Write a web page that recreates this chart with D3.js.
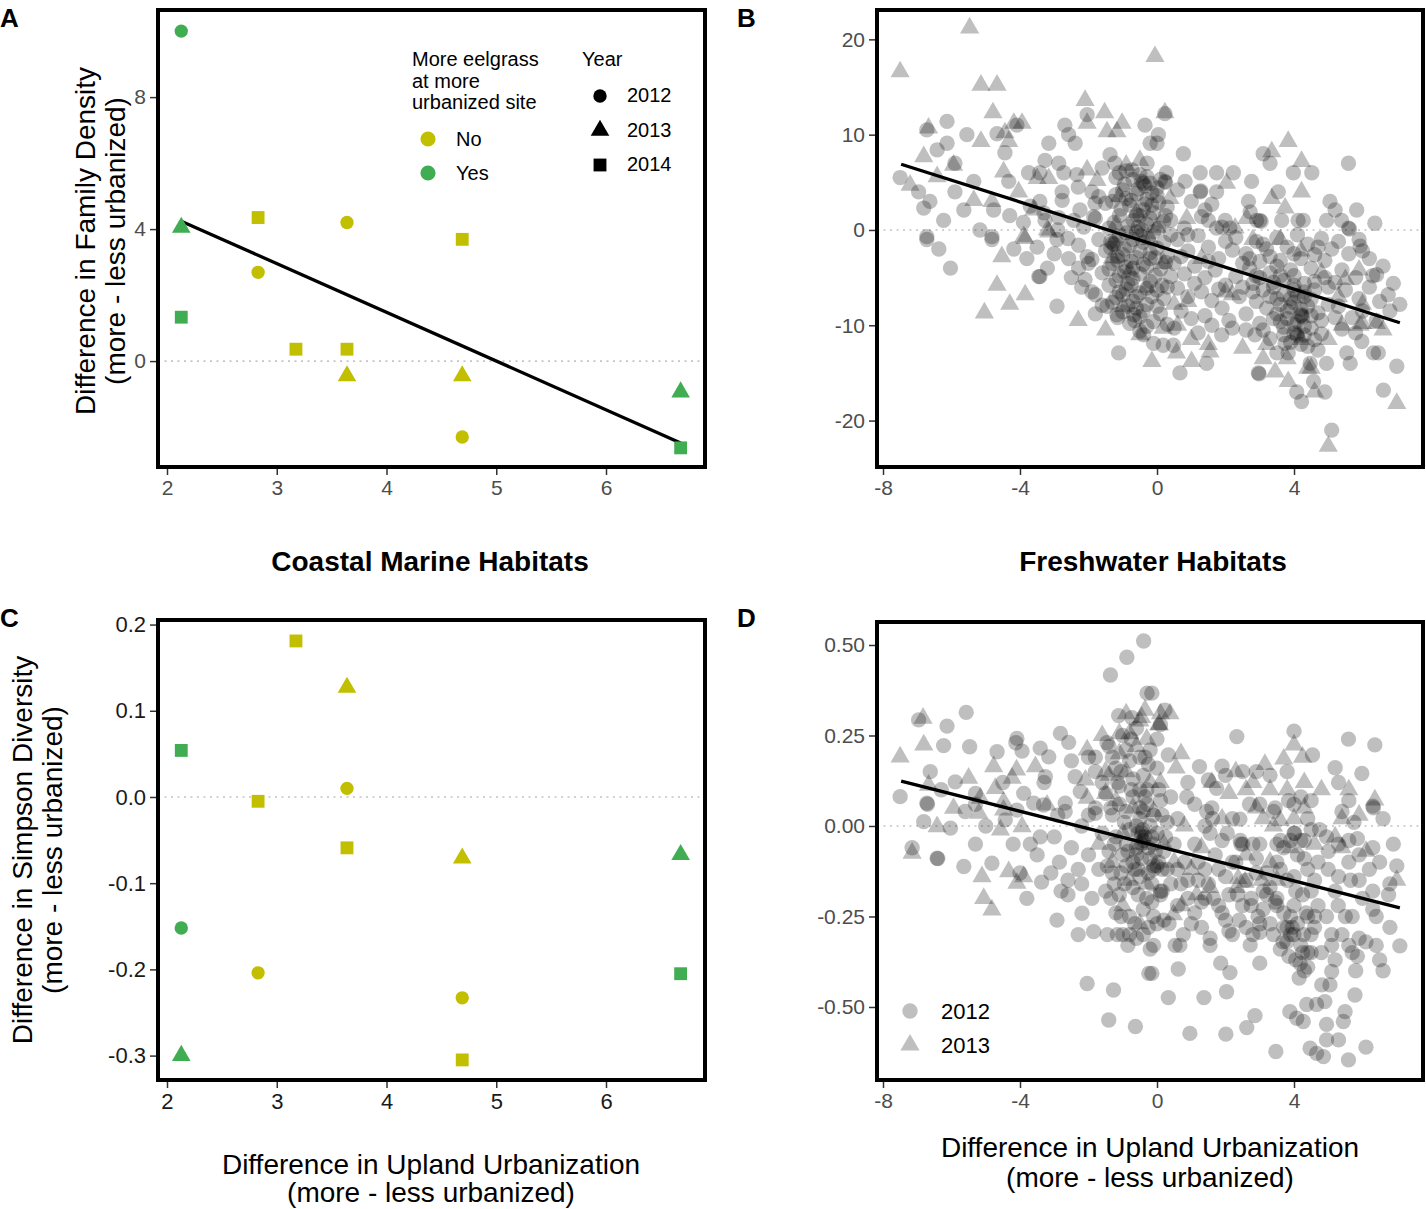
<!DOCTYPE html>
<html><head><meta charset="utf-8">
<script src="https://cdn.jsdelivr.net/npm/d3@7"></script>
<style>body{margin:0;background:#fff} text{font-family:"Liberation Sans",Arial,Helvetica,sans-serif}</style>
</head><body><svg id="c" width="1426" height="1209"></svg>
<script>
// ---------- Coastal marine (panels A, C) ----------
const coastalUrban    = [2.13, 2.13, 2.13, 2.83, 2.83, 3.175, 3.64, 3.64, 3.64, 4.69, 4.69, 4.69, 6.68, 6.68];
const coastalYear     = [2012, 2013, 2014, 2012, 2014, 2014, 2012, 2013, 2014, 2012, 2013, 2014, 2013, 2014];
const coastalEelgrass = ["Yes","Yes","Yes","No","No","No","No","No","No","No","No","No","Yes","Yes"];
const coastalDensity  = [10.0, 4.05, 1.33, 2.69, 4.35, 0.36, 4.2, -0.45, 0.36, -2.3, -0.45, 3.69, -0.94, -2.63];
const coastalSimpson  = [-0.152, -0.30, 0.054, -0.204, -0.005, 0.181, 0.010, 0.127, -0.059, -0.233, -0.071, -0.305, -0.067, -0.205];
const coastalDensityFit = [[2.13, 4.24], [6.68, -2.48]];
const coastalXTicks = [2, 3, 4, 5, 6];
const densityYTicks = [0, 4, 8];
const simpsonYTicks = [0.2, 0.1, 0.0, -0.1, -0.2, -0.3];

// ---------- Freshwater (panels B, D): [urbanization diff, response diff] ----------
const freshDensity2012 = [
[-6.13,11.4],[-6.72,10.5],[-5.55,10.0],[-4.67,10.1],[-4.09,11.0],[-6.13,9.1],[-6.42,8.4],[-4.44,8.1],[-5.9,7.0],[-7.5,5.5],[-6.96,4.0],[-6.63,3.0],[-6.81,2.3],[-5.9,4.0],[-5.35,5.1],[-5.64,2.1],[-4.77,2.1],[-4.33,5.1],[-6.23,1.0],[-5.17,0.0],[-4.82,-0.7],[-6.72,-0.7],[-3.16,9.1],[-3.27,7.3],[-2.87,7.0],[-2.69,11.0],[-2.58,10.0],[-2.39,9.1],[-2.04,12.1],[-3.75,6.0],[-3.42,6.0],[-2.72,6.0],[-2.34,5.8],[-2.77,4.0],[-3.42,3.0],[-2.77,3.1],[-2.25,2.1],[-1.81,2.8],[-3.27,1.0],[-2.87,1.3],[-2.43,1.0],[-2.14,0.3],[-1.85,1.4],[-1.37,7.9],[-1.23,7.0],[-0.35,11.0],[-0.2,9.1],[-0.73,6.3],[-0.29,7.0],
[0.04,10.0],[0.0,9.1],[0.77,8.0],[3.1,8.0],[3.3,7.0],[5.59,7.0],[1.26,6.0],[1.74,6.0],[2.23,6.0],[0.28,6.0],[3.98,6.0],[4.52,6.0],[0.82,5.1],[0.23,5.1],[0.25,5.0],[1.26,4.0],[1.28,4.1],[1.74,4.0],[2.76,5.1],[3.54,4.0],[2.67,3.0],[5.05,3.0],[5.2,2.1],[1.4,2.1],[5.83,2.1],[4.95,1.0],[5.39,1.0],[6.36,0.7],[5.59,0.2],[5.62,0.1],[1.5,1.0],[1.99,1.0],[2.91,1.0],[3.0,1.0],[3.04,0.9],[3.64,1.0],[4.12,1.0],[4.27,1.0],[2.72,1.9],[1.74,0.2],[2.13,0.2],[0.23,12.2],
[-6.72,-1.0],[-6.37,-2.0],[-6.03,-4.0],[-4.82,-1.0],[-4.18,-2.0],[-3.8,-3.0],[-3.45,-4.9],[-3.42,-4.9],[-2.92,-1.0],[-2.58,-3.0],[-2.29,-4.0],[-2.29,-1.6],[-2.92,-8.0],[-2.04,-2.8],[-1.9,-6.5],[-1.12,-12.9],[-0.39,-11.0],[-1.46,-8.0],[-1.17,-8.9],[-0.68,-8.9],
[5.1,-21.0],[6.61,-16.8],[7.0,-14.3],[7.09,-7.8],[6.75,-6.8],[6.41,-4.7],[5.93,-1.7],[2.96,-15.0],[2.98,-15.1],[0.67,-15.0],[1.45,-14.0],[4.08,-17.0],[4.22,-18.0],[4.57,-15.9],[4.9,-17.0],[4.47,-14.0],[4.95,-14.0],[3.5,-12.9],[3.83,-12.9],[3.74,-11.9],[5.64,-14.0],[5.54,-12.9],[6.32,-12.9],[6.46,-12.9],[5.98,-11.7],[1.89,-11.0],[2.86,-11.0],[-0.1,-11.9],[0.18,-12.1],[0.48,-12.1],
[-1.2,5.5],[-0.9,6.2],[-0.5,5.8],[-0.2,4.9],[0.1,5.3],[-1.0,4.2],[-0.6,3.8],[-0.3,3.2],[0.0,3.6],[-1.3,3.0],[-0.8,2.6],[-0.4,2.1],[-0.1,1.8],[0.3,2.4],[-1.1,1.5],[-0.7,1.0],[-0.3,0.6],[0.2,0.9],[-1.4,0.2],[-0.9,-0.3],[-0.5,-0.6],[-0.1,-0.2],[0.4,-0.5],[-1.2,-1.2],[-0.8,-1.6],[-0.4,-1.3],[0.0,-1.9],[-1.5,-2.2],[-1.0,-2.6],[-0.6,-2.9],[-0.2,-2.4],[0.3,-2.8],[-1.3,-3.5],[-0.9,-3.9],[-0.4,-3.6],[0.1,-4.1],[-1.6,-4.5],[-1.1,-4.8],[-0.7,-5.1],[-0.2,-5.4],[0.4,-4.9],[-1.4,-5.8],[-0.9,-6.2],[-0.5,-6.6],[0.0,-6.3],[-1.2,-7.1],[-0.7,-7.5],[-0.3,-7.8],[0.2,-7.2],[-1.6,-7.9],[-1.0,-8.6],[-0.5,-9.1],[0.1,-8.8],[-0.8,-9.8],[-0.3,-10.1],[-1.8,-6.8],[-1.9,-3.1],[-2.1,-5.2],[-1.7,-1.0],[-1.8,1.2],[-1.5,2.8],[-1.9,4.0],[-1.6,6.5],
[-0.4,4.9],[-0.45,5.1],[-0.35,4.6],[-1.3,-1.4],[-1.25,-1.5],[-1.35,-1.2],[-0.6,-0.2],[-0.55,0.3],[-0.2,-3.0],[-0.7,-4.0],[-1.0,-6.8],[-0.6,-8.2],[-0.15,2.6],[-0.9,3.3],[-1.15,-3.2],[0.15,-5.8],[-0.85,-5.6],[-0.5,1.5],
[-1.1,6.0],[-0.7,5.3],[-0.3,5.6],[0.0,4.4],[-0.95,4.8],[-0.55,4.3],[-0.15,3.9],[-1.2,3.7],[-0.75,3.1],[-0.35,2.7],[0.05,2.9],[-1.05,2.2],[-0.6,1.6],[-0.2,1.2],[0.25,1.5],[-1.25,0.8],[-0.85,0.4],[-0.45,0.0],[0.05,0.2],[-1.1,-0.6],[-0.7,-1.0],[-0.25,-0.9],[0.2,-1.3],[-1.35,-1.9],[-0.95,-2.0],[-0.5,-2.2],[-0.05,-2.9],[-1.15,-2.8],[-0.75,-3.3],[-0.3,-3.9],[0.25,-3.4],[-1.4,-4.1],[-0.95,-4.4],[-0.5,-4.6],[-0.05,-4.8],[-1.2,-5.3],[-0.75,-5.8],[-0.3,-6.1],[0.3,-6.0],[-1.1,-6.5],[-0.6,-7.0],[-0.15,-7.0],[-1.3,-7.6],[-0.85,-8.0],[-0.4,-8.5],[0.0,-8.0],[-1.15,-9.2],[-0.65,-9.5],[-0.1,-9.6],[-0.5,-10.6],[0.3,-9.9],
[0.6,-1.0],[0.9,-2.2],[1.2,-0.6],[1.5,-1.8],[1.8,-3.0],[2.2,-2.1],[0.5,-3.5],[0.8,-4.6],[1.1,-3.8],[1.4,-5.0],[1.7,-4.2],[2.0,-5.8],[2.3,-4.9],[0.6,-6.1],[0.9,-7.0],[1.3,-6.5],[1.6,-7.4],[1.9,-8.2],[2.4,-7.0],[0.7,-8.5],[1.0,-9.3],[1.4,-9.0],[2.1,-9.5],[0.5,-10.3],[1.2,-10.8],[2.6,-8.8],[0.4,1.0],[0.8,0.2],[1.3,1.4],[1.9,0.3],[2.3,-0.8],[1.0,3.0],[1.6,2.7],[0.6,4.2],[0.9,-0.5],[2.0,-1.2],[1.5,-3.3],[0.7,-2.8],[2.5,-3.5],[1.1,-5.6],[1.8,-6.2],[2.2,-10.3],[1.6,-10.0],
[2.6,-2.5],[2.9,-1.2],[3.2,-2.0],[3.5,-0.8],[3.8,-1.8],[4.1,-0.5],[4.4,-1.5],[4.8,-0.9],[2.7,-4.0],[3.0,-3.3],[3.3,-4.5],[3.6,-3.2],[3.9,-4.2],[4.2,-3.0],[4.5,-4.0],[4.9,-3.2],[5.1,-2.0],[2.8,-5.6],[3.1,-6.3],[3.4,-5.5],[3.7,-6.8],[4.0,-5.8],[4.3,-6.5],[4.6,-5.4],[5.0,-6.0],[2.9,-7.5],[3.2,-8.2],[3.5,-7.2],[3.8,-8.5],[4.0,-7.6],[4.2,-9.0],[4.4,-8.0],[4.7,-8.7],[5.0,-7.8],[3.0,-9.8],[3.4,-9.3],[3.7,-10.2],[4.0,-10.8],[4.1,-9.6],[4.3,-11.0],[4.5,-10.3],[4.8,-10.9],[3.9,-11.8],[4.4,-12.2],[4.7,-12.6],[3.3,-11.4],[2.6,-10.5],[4.0,-6.3],[4.1,-6.9],[3.6,-4.8],
[4.22,-8.9],[4.25,-9.1],[4.08,-10.9],[4.1,-11.1],[3.9,-7.2],[4.3,-7.0],[3.6,-9.6],[2.9,-4.8],[3.3,-2.8],[4.6,-2.6],
[3.4,-6.0],[3.7,-5.3],[4.0,-4.8],[4.3,-5.6],[4.6,-6.3],[3.6,-7.8],[3.9,-8.1],[4.2,-8.3],[4.5,-9.0],[4.8,-9.5],[3.5,-8.8],[3.8,-9.3],[4.0,-9.9],[4.3,-10.1],[4.6,-11.5],[4.2,-12.0],[3.7,-11.0],[3.1,-10.5],[3.3,-7.0],[2.8,-6.5],[4.9,-5.0],[5.2,-9.2],[4.5,-7.3],[3.0,-5.0],[2.7,-3.0],[3.5,-3.8],[4.0,-2.5],[4.7,-1.8],[3.1,-1.5],[2.5,-6.0],
[5.3,-1.2],[5.6,-2.5],[5.9,-1.0],[6.2,-3.0],[5.4,-4.2],[5.8,-5.0],[6.3,-4.8],[6.6,-3.8],[5.5,-6.3],[5.9,-7.2],[6.2,-6.0],[6.5,-7.5],[5.3,-8.0],[5.7,-9.2],[6.0,-8.5],[6.4,-9.5],[5.4,-10.4],[5.8,-10.8],[6.8,-8.5],[5.2,-5.5],[6.9,-5.6],[6.0,-2.2],
[-3.7,2.5],[-3.3,1.8],[-2.9,0.0],[-2.6,-0.9],[-3.5,-1.8],[-3.0,-2.5],[-2.5,-5.0],[-2.2,-6.0],[-1.8,-8.8],[-3.2,-4.0],[-2.0,-3.5],[-1.7,3.5],[-2.3,4.5],[-3.9,0.8],[-4.3,1.5]
];
const freshDensity2013 = [
[-5.47,21.2],[-7.5,16.6],[-5.14,15.2],[-4.67,15.2],[-4.79,12.3],[-4.18,11.2],[-3.94,11.2],[-6.67,10.7],[-2.1,13.6],[-2.04,11.2],[-1.53,12.3],[-1.46,10.3],[-1.17,10.3],[-1.02,11.2],[-5.14,9.3],[-4.33,9.3],[-4.44,10.2],[-6.81,7.7],[-5.94,6.8],[-6.42,5.6],[-7.21,4.7],[-4.48,6.1],[-5.35,3.1],[-4.82,3.0],[-2.04,6.3],[-3.5,5.4],[-3.16,5.4],[-4.04,4.0],[-1.75,5.2],[-3.6,2.1],[-3.89,-0.7],[-3.2,0.0],[-0.06,18.2],
[0.23,12.3],[3.83,9.3],[3.35,8.2],[4.22,7.2],[2.03,4.9],[4.22,4.0],[3.35,3.3],[3.74,2.3],[0.38,3.3],[0.87,1.2],[2.28,0.2],[2.62,1.2],
[-4.53,-2.8],[-3.85,-0.9],[-4.67,-5.8],[-3.85,-6.8],[-4.3,-7.8],[-5.04,-8.7],[-3.16,-0.2],[-0.15,-13.8],
[5.0,-22.7],[7.0,-18.2],[3.45,-14.9],[0.57,-12.9],[1.01,-13.8],[1.55,-12.8],[3.83,-15.9],[4.6,-17.0],[4.4,-14.5],[5.4,-10.0],[5.93,-10.0],[6.41,-9.8],[0.18,-10.3],
[-0.9,6.8],[-0.5,7.3],[-1.1,3.5],[-0.6,1.8],[-0.2,-1.0],[-1.3,-2.9],[-0.8,-4.4],[-0.3,-6.0],[0.2,-3.5],[-1.0,-8.0],[-0.5,-11.0],[0.5,-7.8],[1.5,-12.0],[2.5,-12.4],[3.2,-12.0],[3.8,-13.5],[4.5,-14.5],[3.6,-1.0],[4.2,-2.2],[4.8,-4.5],[5.3,-7.0],[6.0,-9.8],[5.0,-11.5],[2.0,-6.5],[1.0,-11.5],[-1.5,-10.5],[-2.3,-9.5],[-1.2,0.5],[0.0,0.3],[0.6,-10.0],[4.2,-11.5],[3.1,-13.5],
[0.9,-7.5],[2.2,-6.8],[1.3,-3.0],[2.8,-1.0],[5.5,-5.2],[6.0,-7.8],[6.6,-10.5],[5.9,-4.2]
];
const freshDensityFit = [[-7.47, 6.9], [7.09, -9.73]];

const freshSimpson2012 = [
[-0.39,0.511],[-0.88,0.466],[-1.36,0.417],[-0.29,0.367],[-6.96,0.293],[-6.13,0.276],[-5.57,0.314],[-6.23,0.222],[-5.47,0.219],[-6.62,0.15],[-5.89,0.122],[-7.5,0.081],[-6.72,0.063],[-6.7,0.06],[-6.81,0.012],[-6.03,-0.006],[-4.67,0.205],[-4.09,0.242],[-4.12,0.23],[-3.94,0.207],[-3.41,0.215],[-3.16,0.191],[-2.82,0.256],[-2.58,0.231],[-3.26,0.136],[-3.89,0.09],[-3.6,0.063],[-3.31,0.058],[-2.68,0.063],[-2.68,0.04],[-2.9,0.03],[-4.09,0.044],[-4.43,0.017],[-5.3,0.09],[-5.3,0.06],[-3.41,-0.03],[-2.39,0.136],[-2.24,0.095],[-1.8,0.15],[-1.8,0.19],[-2.0,0.19],[-1.46,0.23],[-1.12,0.305],[-0.73,0.299],[-1.8,0.035],
[-7.15,-0.06],[-6.42,-0.089],[-6.4,-0.09],[-5.64,-0.112],[-4.82,-0.103],[-4.0,-0.13],[-3.37,-0.155],[-3.1,-0.13],[-2.85,-0.1],[-2.92,-0.26],[-2.19,-0.241],[-1.85,-0.292],[-1.45,-0.3],[-1.16,-0.3],[-0.8,-0.3],[-2.04,-0.435],[-1.27,-0.453],[-1.41,-0.536],[-0.63,-0.554],[-0.24,-0.407],[-2.6,-0.19],[-2.6,-0.15],[-2.3,-0.12],
[0.96,-0.573],[2.01,-0.575],[2.62,-0.557],[2.86,-0.524],[0.33,-0.474],[1.37,-0.474],[2.03,-0.458],[3.47,-0.623],[4.47,-0.614],[4.66,-0.628],[4.86,-0.637],[5.59,-0.646],[6.1,-0.611],[4.95,-0.591],[5.3,-0.591],[4.95,-0.548],[5.44,-0.54],[5.49,-0.513],[5.78,-0.467],[3.88,-0.513],[4.08,-0.531],[4.27,-0.54],[4.37,-0.493],[4.66,-0.493],[4.9,-0.485],[4.81,-0.439],[5.05,-0.439],[5.1,-0.402],[3.0,-0.379],[1.86,-0.379],[2.13,-0.405],[0.62,-0.395],[-0.15,-0.407],[2.72,-0.329],[1.55,-0.33],[0.77,-0.3],[0.53,-0.33],[2.2,-0.3],[3.0,-0.294],[3.68,-0.32],[3.79,-0.32],[4.0,-0.3],[4.28,-0.3],[4.5,-0.3],[4.4,-0.35],[4.5,-0.35],[4.8,-0.35],[4.05,-0.37],[4.18,-0.38],[4.4,-0.39],[5.2,-0.37],[5.1,-0.33],[5.4,-0.3],[5.6,-0.33],[5.7,-0.35],[5.85,-0.36],[5.9,-0.31],[6.1,-0.32],[6.4,-0.33],[6.5,-0.37],[7.09,-0.331],[6.3,-0.23],[5.7,-0.25],[7.0,-0.11],[6.76,-0.19],[6.3,-0.18],[5.9,-0.15],[5.65,-0.15],[5.29,-0.22],[4.95,-0.25],[4.6,-0.25],[4.35,-0.24],[4.25,-0.19],[4.05,-0.18],[3.5,-0.2],[3.7,-0.24],[3.8,-0.28],[3.1,-0.18],[3.2,-0.19],[3.45,-0.21],[3.5,-0.22],[2.75,-0.2],[2.75,-0.22],[2.95,-0.25],[3.0,-0.27],[2.35,-0.19],[2.5,-0.22],[1.8,-0.22],[1.9,-0.24],[2.0,-0.26],[2.1,-0.29],[1.65,-0.2],[1.4,-0.2],[1.1,-0.24],[1.3,-0.28],[1.55,-0.31],[0.7,-0.16],[0.9,-0.15],[0.4,-0.16],[0.15,-0.18],[0.1,-0.19],[-0.1,-0.25],[0.2,-0.26],[0.35,-0.27],[-0.1,-0.33],[0.67,-0.33],[-0.1,-0.11],[0.0,-0.11],[0.05,-0.1],
[-0.15,0.367],[0.23,0.32],[0.1,0.28],[0.0,0.24],[2.33,0.247],[4.0,0.262],[5.59,0.24],[6.36,0.224],[4.54,0.196],[5.2,0.161],[5.98,0.145],[0.33,0.196],[1.24,0.164],[1.5,0.127],[1.74,0.104],[1.9,0.165],[2.0,0.14],[2.5,0.15],[2.9,0.15],[3.3,0.14],[3.8,0.15],[0.87,0.08],[1.1,0.06],[1.45,0.04],[1.62,0.02],[2.42,0.019],[3.0,0.06],[3.45,0.05],[3.84,0.07],[4.2,0.08],[4.5,0.07],[6.3,0.055],[6.32,0.05],[5.6,0.07],[5.4,0.04],[5.75,0.01],[4.4,0.02],[4.75,-0.01],[4.95,-0.03],[4.3,-0.04],[4.0,-0.02],[4.02,-0.02],[5.6,-0.04],[5.85,-0.035],[6.3,-0.06],[2.43,-0.04],[2.45,-0.05],[2.8,-0.05],[3.5,-0.05],[3.6,-0.04],[2.05,-0.02],[1.55,-0.02],[1.4,0.0],
[-1.4,0.22],[-1.0,0.25],[-0.6,0.27],[-0.2,0.21],[-1.2,0.16],[-0.8,0.18],[-0.4,0.14],[0.0,0.16],[-1.5,0.09],[-1.1,0.11],[-0.7,0.08],[-0.3,0.10],[0.1,0.07],[-1.3,0.03],[-0.9,0.04],[-0.5,0.02],[-0.1,0.03],[0.3,0.01],[-1.6,-0.02],[-1.2,-0.03],[-0.8,-0.01],[-0.4,-0.04],[0.0,-0.02],[-1.4,-0.07],[-1.0,-0.08],[-0.6,-0.06],[-0.2,-0.09],[0.2,-0.07],[-1.7,-0.12],[-1.3,-0.13],[-0.9,-0.11],[-0.5,-0.14],[-0.1,-0.12],[-1.5,-0.18],[-1.1,-0.19],[-0.7,-0.17],[-0.3,-0.2],[0.1,-0.18],[-1.2,-0.24],[-0.8,-0.25],[-0.4,-0.23],[0.0,-0.27],[-0.6,-0.31],[-1.0,-0.3],[-0.2,-0.34],[-0.45,-0.05],[-0.35,-0.03],[-0.5,0.05],[-0.3,0.06],[-0.7,0.13],[-1.8,0.05],[-2.0,-0.08],[-1.9,-0.2],[-2.2,0.0],
[-0.44,-0.02],[-0.42,-0.01],[-0.46,-0.03],[-0.6,0.0],[-0.25,-0.06],[-0.9,-0.05],[-0.7,-0.1],[-1.1,0.06],[-0.2,0.0],[-0.55,-0.12],[-0.15,-0.16],[-1.25,-0.16],[-0.75,0.24],[-0.35,0.19],[-1.05,0.15],[0.15,0.03],[-0.1,-0.05],[-1.6,0.12],
[-1.3,0.19],[-0.9,0.21],[-0.5,0.19],[-0.25,0.17],[-1.15,0.12],[-0.75,0.1],[-0.35,0.08],[0.05,0.1],[-1.35,0.05],[-0.95,0.01],[-0.55,-0.02],[-0.15,-0.03],[0.25,-0.03],[-1.25,-0.05],[-0.85,-0.07],[-0.45,-0.09],[-0.05,-0.07],[-1.45,-0.11],[-1.05,-0.13],[-0.65,-0.12],[-0.25,-0.13],[0.15,-0.12],[-1.35,-0.2],[-0.95,-0.16],[-0.55,-0.19],[-0.15,-0.21],[-1.05,-0.25],[-0.65,-0.27],[-0.25,-0.28],[-0.85,-0.33],[-0.4,-0.3],[-0.5,0.1],[-0.4,0.04],[-0.6,-0.08],
[0.5,-0.05],[0.8,-0.1],[1.1,-0.05],[1.4,-0.12],[1.7,-0.08],[2.0,-0.14],[2.3,-0.1],[2.6,-0.15],[2.9,-0.09],[3.2,-0.13],[3.5,-0.1],[3.8,-0.15],[4.1,-0.08],[4.4,-0.12],[4.7,-0.1],[0.6,-0.22],[1.0,-0.27],[1.3,-0.21],[2.4,-0.26],[2.8,-0.3],[3.3,-0.27],[3.6,-0.34],[3.9,-0.25],[4.2,-0.33],[4.6,-0.28],[0.4,0.08],[0.9,0.12],[1.6,0.05],[2.2,0.02],[2.7,0.06],[3.4,0.04],[4.0,0.06],[0.6,0.02],[1.2,-0.15],[1.9,-0.04],[3.0,-0.05],[3.7,-0.06],[4.2,-0.04],[0.3,-0.12],[2.1,-0.19],[4.0,-0.22],[4.5,-0.18],[3.9,-0.3],[4.3,-0.4],[4.15,-0.42],[3.95,-0.28],
[2.2,-0.1],[2.5,-0.05],[2.9,-0.13],[3.3,-0.17],[3.6,-0.12],[4.0,-0.14],[4.3,-0.09],[4.6,-0.15],[3.1,-0.23],[3.4,-0.3],[3.7,-0.28],[4.1,-0.27],[4.4,-0.25],[4.7,-0.22],[3.85,-0.36],[4.25,-0.35],[2.6,-0.28],[1.8,-0.12],[1.5,-0.16],[0.9,-0.2],[0.6,-0.12],[1.2,-0.1],[3.9,-0.04],[4.5,-0.01],[5.0,-0.07],[5.3,-0.14],
[5.0,-0.12],[5.3,-0.05],[5.6,-0.1],[5.9,-0.08],[6.2,-0.12],[6.5,-0.1],[5.2,-0.18],[5.5,-0.25],[6.0,-0.2],[6.4,-0.25],[6.8,-0.28],[5.1,-0.3],[5.8,-0.4],[6.6,-0.4],[6.9,-0.05],[6.6,0.02],[5.3,0.12],[6.8,-0.16],
[-3.7,-0.05],[-3.0,-0.03],[-2.5,-0.06],[-2.2,-0.16],[-3.5,-0.08],[-2.8,-0.18],[-3.3,0.12],[-2.5,0.18],[-4.5,0.12],[-4.2,-0.05],[-5.0,0.0],[-5.6,0.04],[-6.3,0.1],[-5.3,-0.05],[-3.8,-0.2],[-2.3,-0.3],[-2.0,0.03]
];
const freshSimpson2013 = [
[-7.5,0.191],[-6.81,0.224],[-6.67,0.113],[-5.5,0.132],[-5.94,0.049],[-6.42,-0.002],[-4.77,0.164],[-4.23,0.132],[-4.72,0.104],[-5.16,0.077],[-5.2,0.035],[-4.48,0.067],[-4.48,0.044],[-3.55,0.164],[-3.21,0.058],[-3.94,-0.002],[-4.57,-0.011],[-2.04,0.21],[-2.09,0.127],[-2.04,0.077],[-1.5,0.15],[-1.5,0.09],[-1.1,0.255],[-0.8,0.255],[-0.45,0.3],
[-7.15,-0.075],[-5.11,-0.14],[-5.06,-0.2],[-4.82,-0.232],[-4.33,-0.126],[-3.89,-0.14],[-4.09,-0.158],
[0.38,0.31],[0.07,0.28],[4.0,0.224],[4.25,0.19],[3.7,0.185],[3.15,0.17],[0.56,0.16],[4.3,0.12],[2.8,0.12],[2.1,0.09],[2.6,0.1],[3.3,0.1],[3.8,0.1],[6.36,0.072],[5.9,0.03],[5.4,0.02],[3.1,0.02],[3.4,0.0],[3.6,0.015],[4.0,0.02],
[-0.9,0.31],[-0.5,0.29],[-1.1,0.2],[-0.6,0.22],[-0.3,0.24],[-1.4,0.14],[-0.9,0.15],[-0.2,0.12],[-1.2,0.07],[-0.7,0.05],[-0.1,0.04],[-1.0,-0.02],[-0.5,-0.05],[-1.3,-0.1],[-0.8,-0.15],[-0.3,-0.16],[-1.0,-0.22],[-0.5,-0.27],[0.2,-0.05],[0.1,0.12],[-0.35,0.32],[0.05,0.28],[-1.6,0.25],[-1.7,-0.05],
[0.8,0.0],[1.3,-0.06],[1.9,0.02],[2.6,-0.08],[3.3,-0.1],[3.9,-0.06],[4.6,-0.05],[0.5,-0.1],[1.0,-0.12],[2.9,0.05],[3.5,-0.15],[4.8,0.1],[4.3,0.05],[5.2,-0.03],[5.6,0.1],[1.6,0.12],[0.7,0.2],[2.3,0.15],
[0.1,0.31],[-6.83,0.298],[-4.1,0.155],[2.37,-0.145],[2.57,-0.155],[3.06,-0.15],[2.33,-0.17],[1.55,-0.17],[1.16,-0.19],[0.72,-0.22],[0.48,-0.245],[6.1,-0.07],[5.4,-0.06],[7.0,-0.15]
];
const freshSimpsonFit = [[-7.47, 0.124], [7.09, -0.226]];
const freshXTicks = [-8, -4, 0, 4];
const freshDensityYTicks = [20, 10, 0, -10, -20];
const freshSimpsonYTicks = [0.5, 0.25, 0, -0.25, -0.5];
const yearLevels = [2012, 2013, 2014];
const eelgrassLevels = ["No", "Yes"];

// ---------- drawing ----------
const svg = d3.select("#c");
const loc = d3.formatLocale({decimal: ".", thousands: ",", grouping: [3], currency: ["", ""], minus: "-"});
const colorScale = d3.scaleOrdinal().domain(eelgrassLevels).range(["#c1bf00", "#41ad52"]);
const symScale = d3.scaleOrdinal().domain(yearLevels).range([d3.symbolCircle, d3.symbolTriangle, d3.symbolSquare]);
const coastalSize = {2012: 140, 2013: 150, 2014: 165};
const freshSize = {2012: 185, 2013: 160};

function panel(frame, xd, yd) {
  const x = d3.scaleLinear().domain(xd).range([frame.x0, frame.x1]);
  const y = d3.scaleLinear().domain(yd).range([frame.y1, frame.y0]);
  return {frame, x, y, g: svg.append("g")};
}
function zeroLine(p) {
  p.g.append("line").attr("x1", p.frame.x0).attr("x2", p.frame.x1)
    .attr("y1", p.y(0)).attr("y2", p.y(0))
    .attr("stroke", "#c4c4c4").attr("stroke-width", 1.6).attr("stroke-dasharray", "2,4.5");
}
function fitLine(p, pts) {
  p.g.append("path").datum(pts)
    .attr("d", d3.line().x(d => p.x(d[0])).y(d => p.y(d[1])))
    .attr("stroke", "#000").attr("stroke-width", 3.3).attr("fill", "none");
}
function axes(p, xt, yt, yfmt, col, fs) {
  const f = p.frame;
  const ax = p.g.append("g").attr("transform", `translate(0,${f.y1 + 2})`)
    .call(d3.axisBottom(p.x).tickValues(xt).tickSize(6).tickPadding(4).tickFormat(loc.format("d")));
  const ay = p.g.append("g").attr("transform", `translate(${f.x0 - 2},0)`)
    .call(d3.axisLeft(p.y).tickValues(yt).tickSize(6).tickPadding(4).tickFormat(loc.format(yfmt)));
  [ax, ay].forEach(a => {
    a.select(".domain").remove();
    a.selectAll("line").attr("stroke", "#333").attr("stroke-width", 1.5);
    a.selectAll("text").attr("fill", col).style("font-size", fs + "px")
      .style("font-family", '"Liberation Sans",Arial,sans-serif');
  });
  ax.selectAll("text").attr("dy", "0.75em");
  p.g.append("rect").attr("x", f.x0).attr("y", f.y0)
    .attr("width", f.x1 - f.x0).attr("height", f.y1 - f.y0)
    .attr("fill", "none").attr("stroke", "#000").attr("stroke-width", 4);
}
function coastalPoints(p, vals) {
  p.g.selectAll(null).data(d3.range(coastalUrban.length)).join("path")
    .attr("transform", i => `translate(${p.x(coastalUrban[i])},${p.y(vals[i])})`)
    .attr("d", i => d3.symbol(symScale(coastalYear[i]), coastalSize[coastalYear[i]])())
    .attr("fill", i => colorScale(coastalEelgrass[i]));
}
function freshPoints(p, pts, year) {
  p.g.selectAll(null).data(pts).join("path")
    .attr("transform", d => `translate(${p.x(d[0])},${p.y(d[1])})`)
    .attr("d", d3.symbol(symScale(year), freshSize[year])())
    .attr("fill", "#000").attr("fill-opacity", 0.25);
}
function txt(x, y, s, opts = {}) {
  const t = svg.append("text").attr("x", x).attr("y", y).text(s)
    .style("font-size", (opts.size || 20) + "px")
    .attr("fill", opts.fill || "#000")
    .attr("text-anchor", opts.anchor || "start");
  if (opts.bold) t.style("font-weight", "bold");
  if (opts.rotate) t.attr("transform", `rotate(-90,${x},${y})`);
  return t;
}

// Panel A
const pA = panel({x0: 158, x1: 705, y0: 10, y1: 467}, [1.918, 6.902], [-3.21, 10.64]);
zeroLine(pA);
fitLine(pA, coastalDensityFit);
coastalPoints(pA, coastalDensity);
axes(pA, coastalXTicks, densityYTicks, "d", "#4d4d4d", 21);

// Panel C
const pC = panel({x0: 158, x1: 705, y0: 620, y1: 1080}, [1.918, 6.902], [-0.3283, 0.2053]);
zeroLine(pC);
coastalPoints(pC, coastalSimpson);
axes(pC, coastalXTicks, simpsonYTicks, ".1f", "#1a1a1a", 22);

// Panel B
const pB = panel({x0: 877, x1: 1423, y0: 10, y1: 467}, [-8.175, 7.766], [-24.87, 23.08]);
zeroLine(pB);
freshPoints(pB, freshDensity2012, 2012);
freshPoints(pB, freshDensity2013, 2013);
fitLine(pB, freshDensityFit);
axes(pB, freshXTicks, freshDensityYTicks, "d", "#4d4d4d", 21);

// Panel D
const pD = panel({x0: 877, x1: 1423, y0: 622, y1: 1080}, [-8.175, 7.766], [-0.7017, 0.5635]);
zeroLine(pD);
freshPoints(pD, freshSimpson2012, 2012);
freshPoints(pD, freshSimpson2013, 2013);
fitLine(pD, freshSimpsonFit);
axes(pD, freshXTicks, freshSimpsonYTicks, ".2f", "#4d4d4d", 21);

// Legend A
const legA = svg.append("g");
["More eelgrass", "at more", "urbanized site"].forEach((s, i) => txt(412, 66 + i * 21.5, s));
eelgrassLevels.forEach((lv, i) => {
  legA.append("path").attr("transform", `translate(428,${139 + i * 34})`)
    .attr("d", d3.symbol(d3.symbolCircle, 180)()).attr("fill", colorScale(lv));
  txt(456, 146 + i * 34, lv);
});
txt(582, 66, "Year");
yearLevels.forEach((yr, i) => {
  legA.append("path").attr("transform", `translate(600,${96 + i * 34.5})`)
    .attr("d", d3.symbol(symScale(yr), coastalSize[yr])()).attr("fill", "#000");
  txt(627, 102 + i * 34.5, String(yr));
});

// Legend D
[2012, 2013].forEach((yr, i) => {
  svg.append("path").attr("transform", `translate(910,${1011 + i * 34})`)
    .attr("d", d3.symbol(symScale(yr), freshSize[yr])()).attr("fill", "#000").attr("fill-opacity", 0.25);
  txt(941, 1019 + i * 34, String(yr), {size: 22});
});

// Panel letters
txt(0, 27, "A", {bold: true, size: 26});
txt(737, 27, "B", {bold: true, size: 26});
txt(0, 627, "C", {bold: true, size: 26});
txt(737, 627, "D", {bold: true, size: 26});

// Titles
txt(430, 571, "Coastal Marine Habitats", {bold: true, size: 28, anchor: "middle"});
txt(1153, 571, "Freshwater Habitats", {bold: true, size: 28, anchor: "middle"});
txt(95, 241, "Difference in Family Density", {size: 28, anchor: "middle", rotate: true});
txt(125, 241, "(more - less urbanized)", {size: 28, anchor: "middle", rotate: true});
txt(32, 850, "Difference in Simpson Diversity", {size: 28, anchor: "middle", rotate: true});
txt(62, 850, "(more - less urbanized)", {size: 28, anchor: "middle", rotate: true});
txt(431, 1174, "Difference in Upland Urbanization", {size: 28, anchor: "middle"});
txt(431, 1202, "(more - less urbanized)", {size: 28, anchor: "middle"});
txt(1150, 1157, "Difference in Upland Urbanization", {size: 28, anchor: "middle"});
txt(1150, 1187, "(more - less urbanized)", {size: 28, anchor: "middle"});
</script>
</body></html>
